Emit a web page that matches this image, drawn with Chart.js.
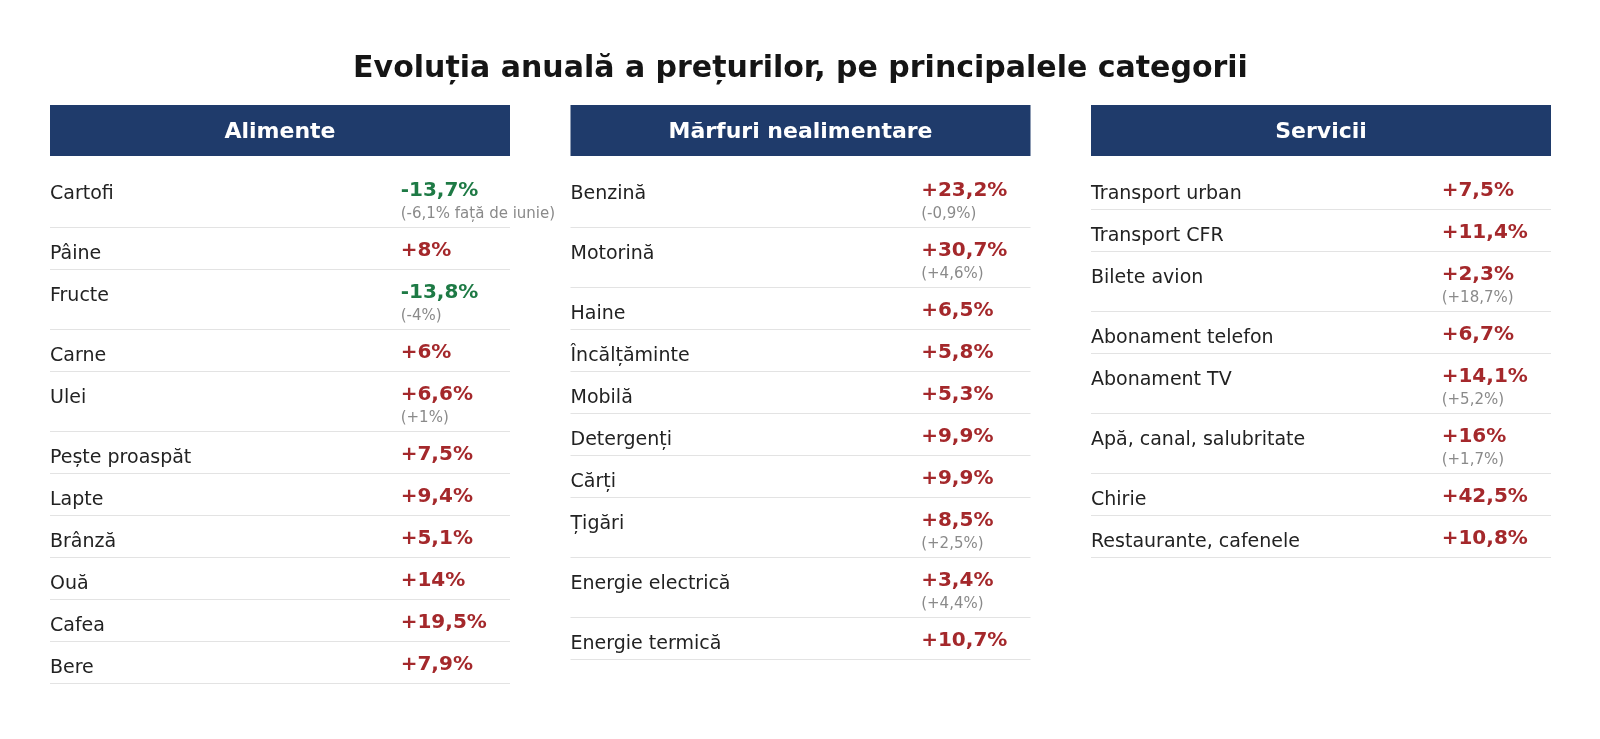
<!DOCTYPE html>
<html>
<head>
<meta charset="utf-8">
<script src="https://cdn.jsdelivr.net/npm/chart.js@4/dist/chart.umd.min.js"></script>
<style>
  html, body { margin: 0; padding: 0; background: #ffffff; }
  #wrap { width: 1600px; height: 739px; position: relative; }
</style>
</head>
<body>
<div id="wrap"><canvas id="c"></canvas></div>
<script>
// ---------- DATA ----------
const chartTitle = 'Evoluția anuală a prețurilor, pe principalele categorii';
const categories = ['Alimente', 'Mărfuri nealimentare', 'Servicii'];

const alimenteItems = ['Cartofi', 'Pâine', 'Fructe', 'Carne', 'Ulei', 'Pește proaspăt', 'Lapte', 'Brânză', 'Ouă', 'Cafea', 'Bere'];
const alimenteValues = [-13.7, 8, -13.8, 6, 6.6, 7.5, 9.4, 5.1, 14, 19.5, 7.9];
const alimenteNotes = ['(-6,1% față de iunie)', null, '(-4%)', null, '(+1%)', null, null, null, null, null, null];

const marfuriItems = ['Benzină', 'Motorină', 'Haine', 'Încălțăminte', 'Mobilă', 'Detergenți', 'Cărți', 'Țigări', 'Energie electrică', 'Energie termică'];
const marfuriValues = [23.2, 30.7, 6.5, 5.8, 5.3, 9.9, 9.9, 8.5, 3.4, 10.7];
const marfuriNotes = ['(-0,9%)', '(+4,6%)', null, null, null, null, null, '(+2,5%)', '(+4,4%)', null];

const serviciiItems = ['Transport urban', 'Transport CFR', 'Bilete avion', 'Abonament telefon', 'Abonament TV', 'Apă, canal, salubritate', 'Chirie', 'Restaurante, cafenele'];
const serviciiValues = [7.5, 11.4, 2.3, 6.7, 14.1, 16, 42.5, 10.8];
const serviciiNotes = [null, null, '(+18,7%)', null, '(+5,2%)', '(+1,7%)', null, null];

// ---------- LAYOUT / STYLE ----------
const groups = [
  { items: alimenteItems, values: alimenteValues, notes: alimenteNotes },
  { items: marfuriItems, values: marfuriValues, notes: marfuriNotes },
  { items: serviciiItems, values: serviciiValues, notes: serviciiNotes }
];

const COL_W = 460 / 520.5;        // column width in column-pitch units
const VALUE_OFF = 350.7 / 520.5;  // value column offset
const X_MAX = 1501 / 520.5;
const ROW_H = 1;                   // normal row (y units)
const SUB_ROW_H = 60 / 42;         // row with a note
const HEADER_H = 51 / 42;
const FIRST_ROW = 62 / 42;
const Y_MAX = 634 / 42;

const C_HEADER = '#1f3b6b';
const C_NAME = '#222222';
const C_POS = '#a4282b';
const C_NEG = '#1e7a45';
const C_NOTE = '#8a8a8a';
const C_SEP = '#e3e3e3';
const FONT = "'DejaVu Sans', sans-serif";

function fmt(v) {
  return (v > 0 ? '+' : '') + String(v).replace('.', ',') + '%';
}

function rowPositions(g) {
  const ys = [];
  let y = FIRST_ROW;
  g.items.forEach((_, i) => {
    const h = g.notes[i] ? SUB_ROW_H : ROW_H;
    ys.push({ top: y, h: h });
    y += h;
  });
  return ys;
}

// one invisible anchor point per row so every cell is tied to the scales
const datasets = groups.map((g, ci) => {
  const pos = rowPositions(g);
  return {
    label: categories[ci],
    data: pos.map(p => ({ x: ci, y: p.top })),
    pointRadius: 0,
    showLine: false
  };
});

const tablePlugin = {
  id: 'tablePlugin',
  afterDatasetsDraw(chart) {
    const ctx = chart.ctx;
    const xs = chart.scales.x, ys = chart.scales.y;
    ctx.save();
    groups.forEach((g, ci) => {
      const x0 = xs.getPixelForValue(ci);
      const x1 = xs.getPixelForValue(ci + COL_W);
      const xv = xs.getPixelForValue(ci + VALUE_OFF);
      // header
      const hy0 = ys.getPixelForValue(0), hy1 = ys.getPixelForValue(HEADER_H);
      ctx.fillStyle = C_HEADER;
      ctx.fillRect(x0, hy0, x1 - x0, hy1 - hy0);
      ctx.fillStyle = '#ffffff';
      ctx.font = 'bold 22px ' + FONT;
      ctx.textAlign = 'center';
      ctx.textBaseline = 'middle';
      ctx.fillText(categories[ci], (x0 + x1) / 2, (hy0 + hy1) / 2 + 1.5);

      const pos = rowPositions(g);
      ctx.textAlign = 'left';
      ctx.textBaseline = 'alphabetic';
      g.items.forEach((name, i) => {
        const top = ys.getPixelForValue(pos[i].top);
        const bottom = ys.getPixelForValue(pos[i].top + pos[i].h);
        ctx.fillStyle = C_NAME;
        ctx.font = '19px ' + FONT;
        ctx.fillText(name, x0, top + 31.7);
        const v = g.values[i];
        ctx.fillStyle = v < 0 ? C_NEG : C_POS;
        ctx.font = 'bold 20px ' + FONT;
        ctx.fillText(fmt(v), xv, top + 28.7);
        if (g.notes[i]) {
          ctx.fillStyle = C_NOTE;
          ctx.font = '15px ' + FONT;
          ctx.fillText(g.notes[i], xv, top + 51);
        }
        ctx.strokeStyle = C_SEP;
        ctx.lineWidth = 1;
        ctx.beginPath();
        const yy = Math.round(bottom) + 0.5;
        ctx.moveTo(x0, yy);
        ctx.lineTo(x1, yy);
        ctx.stroke();
      });
    });
    ctx.restore();
  }
};

Chart.defaults.font.family = FONT;

new Chart(document.getElementById('c'), {
  type: 'scatter',
  data: { datasets: datasets },
  options: {
    responsive: true,
    maintainAspectRatio: false,
    animation: false,
    events: [],
    layout: { padding: { top: 0, left: 50, right: 49, bottom: 0 } },
    scales: {
      x: { type: 'linear', display: false, min: 0, max: X_MAX },
      y: { type: 'linear', display: false, min: 0, max: Y_MAX, reverse: true }
    },
    plugins: {
      legend: { display: false },
      tooltip: { enabled: false },
      title: {
        display: true,
        text: chartTitle,
        color: '#151515',
        font: { size: 30, weight: 'bold', family: FONT, lineHeight: 1.2 },
        padding: { top: 51, bottom: 18 }
      }
    }
  },
  plugins: [tablePlugin]
});
</script>
</body>
</html>
